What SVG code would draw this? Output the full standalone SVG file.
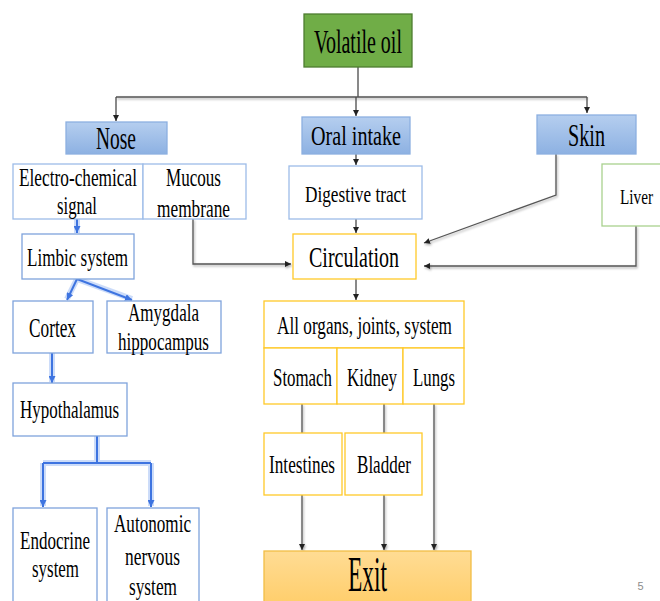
<svg xmlns="http://www.w3.org/2000/svg" width="660" height="601" viewBox="0 0 660 601">
<defs>
<linearGradient id="gBlue" x1="0" y1="0" x2="0" y2="1"><stop offset="0" stop-color="#B5CEEF"/><stop offset="1" stop-color="#8DB1E2"/></linearGradient>
<linearGradient id="gExit" x1="0" y1="0" x2="0" y2="1"><stop offset="0" stop-color="#FFDC94"/><stop offset="1" stop-color="#FFCC66"/></linearGradient>
<marker id="ag" viewBox="0 0 6 6" markerWidth="6" markerHeight="6" refX="6" refY="3" orient="auto" markerUnits="userSpaceOnUse"><path d="M0,0 L6,3 L0,6 z" fill="#222"/></marker>
<marker id="ab" viewBox="0 0 6 6" markerWidth="7" markerHeight="7" refX="6" refY="3" orient="auto" markerUnits="userSpaceOnUse"><path d="M0,0 L6,3 L0,6 z" fill="#3E74E0"/></marker>
<filter id="sh" filterUnits="userSpaceOnUse" x="0" y="0" width="660" height="601"><feDropShadow dx="1" dy="1.5" stdDeviation="1" flood-color="#000" flood-opacity="0.35"/></filter>
</defs>
<style>
text{font-family:"Liberation Serif","Times New Roman",serif;fill:#000;text-anchor:middle}
.t{font-size:26px}
.bx{fill:#fff;stroke-width:1.3}
.bl{stroke:#7FA3DC}
.lb{stroke:#9DBCE8}
.yl{stroke:#FFC929}
.gn{stroke:#A9D18E}
.hd{fill:url(#gBlue);stroke:#8DB0E0;stroke-width:1.3}
.cg{fill:none;stroke:#4a4a4a;stroke-width:1.3}
.cgs{fill:none;stroke:#555;stroke-width:1.3;filter:url(#sh)}
.glow{fill:none;stroke:#8FB2F2;stroke-width:6;stroke-opacity:0.45}
.cb{fill:none;stroke:#3E74E0;stroke-width:2}
</style>
<rect width="660" height="601" fill="#fff"/>

<g id="connectors">
<path class="cg" d="M358,67 V97"/>
<path class="cgs" d="M116,97 H587"/>
<path class="cg" d="M116,97 V121" marker-end="url(#ag)"/>
<path class="cg" d="M356,97 V116" marker-end="url(#ag)"/>
<path class="cg" d="M587,97 V113" marker-end="url(#ag)"/>
<path class="cg" d="M356,154 V165" marker-end="url(#ag)"/>
<path class="cg" d="M356,219 V233" marker-end="url(#ag)"/>
<path class="cg" d="M356,279 V300" marker-end="url(#ag)"/>
<path class="cgs" d="M193,219 V264 H291" marker-end="url(#ag)"/>
<path class="cgs" d="M556,154 V195 L424,243" marker-end="url(#ag)"/>
<path class="cgs" d="M636,226 V266 H424" marker-end="url(#ag)"/>
<path class="cgs" d="M302,404 V433"/>
<path class="cgs" d="M384,404 V433"/>
<path class="cgs" d="M434,404 V550" marker-end="url(#ag)"/>
<path class="cgs" d="M302,495 V550" marker-end="url(#ag)"/>
<path class="cgs" d="M384,495 V550" marker-end="url(#ag)"/>
<path class="glow" d="M77,219 V233 M77,279 L67,299 M77,279 L132,299 M52,353 V382 M97,436 V463 M43,463 H151 M43,463 V506 M151,463 V506"/>
<path class="cb" d="M77,219 V233" marker-end="url(#ab)"/>
<path class="cb" d="M77,279 L67,300" marker-end="url(#ab)"/>
<path class="cb" d="M77,279 L132,300" marker-end="url(#ab)"/>
<path class="cb" d="M52,353 V383" marker-end="url(#ab)"/>
<path class="cb" d="M97,436 V463 M43,463 H151"/>
<path class="cb" d="M43,463 V507" marker-end="url(#ab)"/>
<path class="cb" d="M151,463 V507" marker-end="url(#ab)"/>
</g>

<g id="volatile-oil"><rect x="304" y="14" width="108" height="53" fill="#70AD47" stroke="#4E7D31" stroke-width="1.3"/><text transform="translate(358,53) scale(0.555,1)" font-size="33" textLength="158.5" lengthAdjust="spacingAndGlyphs">Volatile oil</text></g>
<g id="nose"><rect class="hd" x="66" y="122" width="101" height="32"/><text transform="translate(116,149) scale(0.608,1)" font-size="32" textLength="65.8" lengthAdjust="spacingAndGlyphs">Nose</text></g>
<g id="oral-intake"><rect class="hd" x="302" y="117" width="108" height="37"/><text transform="translate(356,145) scale(0.719,1)" font-size="28" textLength="125.2" lengthAdjust="spacingAndGlyphs">Oral intake</text></g>
<g id="skin"><rect class="hd" x="537" y="115" width="99" height="39"/><text transform="translate(586.5,146) scale(0.63,1)" font-size="32" textLength="58.7" lengthAdjust="spacingAndGlyphs">Skin</text></g>

<g id="electro-chemical-signal"><rect class="bx lb" x="13" y="164" width="130" height="55"/><text class="t" transform="translate(78,186) scale(0.664,1)" textLength="177.7" lengthAdjust="spacingAndGlyphs">Electro-chemical</text><text class="t" transform="translate(77,214) scale(0.644,1)" textLength="62.1" lengthAdjust="spacingAndGlyphs">signal</text></g>
<g id="mucous-membrane"><rect class="bx lb" x="143" y="164" width="103" height="55"/><text class="t" transform="translate(193.5,186) scale(0.656,1)" textLength="83.8" lengthAdjust="spacingAndGlyphs">Mucous</text><text class="t" transform="translate(193.5,217) scale(0.665,1)" textLength="109.8" lengthAdjust="spacingAndGlyphs">membrane</text></g>
<g id="digestive-tract"><rect class="bx lb" x="289" y="166" width="133" height="53"/><text transform="translate(355.5,202) scale(0.695,1)" font-size="24" textLength="145.3" lengthAdjust="spacingAndGlyphs">Digestive tract</text></g>
<g id="liver"><rect class="bx gn" x="602" y="164" width="70" height="62"/><text transform="translate(636.5,204) scale(0.69,1)" font-size="22" textLength="47.8" lengthAdjust="spacingAndGlyphs">Liver</text></g>
<g id="circulation"><rect class="bx yl" x="293" y="234" width="123" height="45"/><text transform="translate(354,267) scale(0.667,1)" font-size="30" textLength="135" lengthAdjust="spacingAndGlyphs">Circulation</text></g>
<g id="limbic-system"><rect class="bx bl" x="22" y="234" width="112" height="45"/><text class="t" transform="translate(77.5,266) scale(0.657,1)" textLength="153.7" lengthAdjust="spacingAndGlyphs">Limbic system</text></g>

<g id="cortex"><rect class="bx bl" x="13" y="301" width="80" height="52"/><text transform="translate(52.5,337) scale(0.64,1)" font-size="27" textLength="73.4" lengthAdjust="spacingAndGlyphs">Cortex</text></g>
<g id="amygdala-hippocampus"><rect class="bx bl" x="107" y="301" width="114" height="52"/><text class="t" transform="translate(163.5,321) scale(0.656,1)" textLength="108.2" lengthAdjust="spacingAndGlyphs">Amygdala</text><text class="t" transform="translate(163.5,350) scale(0.656,1)" textLength="138.7" lengthAdjust="spacingAndGlyphs">hippocampus</text></g>
<g id="hypothalamus"><rect class="bx bl" x="13" y="383" width="114" height="53"/><text transform="translate(69.5,418) scale(0.679,1)" font-size="25" textLength="145.8" lengthAdjust="spacingAndGlyphs">Hypothalamus</text></g>
<g id="endocrine-system"><rect class="bx bl" x="13" y="508" width="84" height="100"/><text class="t" transform="translate(55,549) scale(0.655,1)" textLength="106.9" lengthAdjust="spacingAndGlyphs">Endocrine</text><text class="t" transform="translate(55.5,577) scale(0.65,1)" textLength="72.3" lengthAdjust="spacingAndGlyphs">system</text></g>
<g id="autonomic-nervous-system"><rect class="bx bl" x="107" y="508" width="92" height="100"/><text class="t" transform="translate(152.5,532) scale(0.658,1)" textLength="117" lengthAdjust="spacingAndGlyphs">Autonomic</text><text class="t" transform="translate(152.5,565) scale(0.668,1)" textLength="82.3" lengthAdjust="spacingAndGlyphs">nervous</text><text class="t" transform="translate(153,595) scale(0.665,1)" textLength="72.2" lengthAdjust="spacingAndGlyphs">system</text></g>

<g id="all-organs"><rect class="bx yl" x="264" y="301" width="200" height="47"/><text transform="translate(364.5,334) scale(0.687,1)" font-size="25" textLength="254.7" lengthAdjust="spacingAndGlyphs">All organs, joints, system</text></g>
<g id="stomach"><rect class="bx yl" x="264" y="348" width="73" height="56"/><text class="t" transform="translate(302.5,386) scale(0.648,1)" textLength="91" lengthAdjust="spacingAndGlyphs">Stomach</text></g>
<g id="kidney"><rect class="bx yl" x="337" y="348" width="66" height="56"/><text class="t" transform="translate(372,386) scale(0.653,1)" textLength="76.6" lengthAdjust="spacingAndGlyphs">Kidney</text></g>
<g id="lungs"><rect class="bx yl" x="403" y="348" width="61" height="56"/><text class="t" transform="translate(434,386) scale(0.646,1)" textLength="65" lengthAdjust="spacingAndGlyphs">Lungs</text></g>
<g id="intestines"><rect class="bx yl" x="264" y="433" width="78" height="62"/><text class="t" transform="translate(302,473) scale(0.662,1)" textLength="99.7" lengthAdjust="spacingAndGlyphs">Intestines</text></g>
<g id="bladder"><rect class="bx yl" x="345" y="433" width="77" height="62"/><text class="t" transform="translate(384,473) scale(0.656,1)" textLength="82.3" lengthAdjust="spacingAndGlyphs">Bladder</text></g>
<g id="exit"><rect x="264" y="551" width="207" height="60" fill="url(#gExit)" stroke="#F2BE45" stroke-width="1.3"/><text transform="translate(367.5,591) scale(0.47,1)" font-size="50" textLength="83" lengthAdjust="spacingAndGlyphs">Exit</text></g>

<text x="640.5" y="590" style="font-family:'Liberation Sans',Arial,sans-serif;font-size:11px;fill:#8c8c8c">5</text>
</svg>
